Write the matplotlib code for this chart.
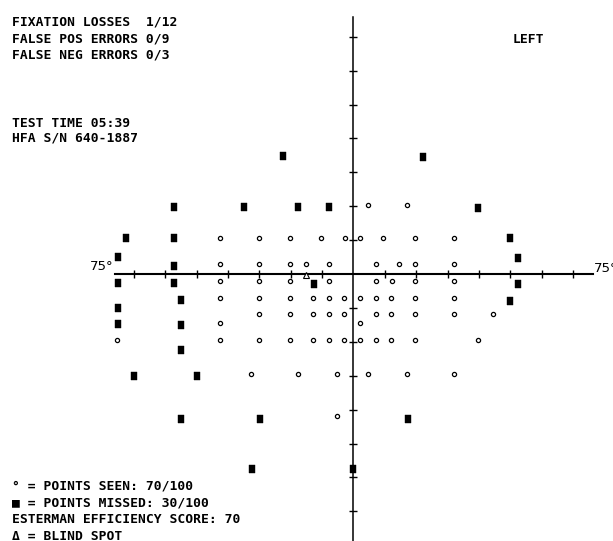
import numpy as np
import matplotlib.pyplot as plt

# Esterman binocular field, left eye (degrees)
seen_x = [4.5, 16.9,
          -42.5, -30.0, -20.1, -10.3, -2.7, 2.1, 9.5, 19.6, 32.0,
          -42.5, -30.0, -20.1, -15.1, -7.7, 7.2, 14.6, 19.6, 32.0,
          -42.5, -30.0, -20.1, -7.7, 7.2, 12.2, 19.6, 32.0,
          -42.5, -30.0, -20.1, -12.8, -7.8, -2.9, 2.1, 7.1, 11.9, 19.6, 32.0,
          -30.0, -20.1, -12.8, -7.8, -2.9, 7.1, 11.9, 19.6, 32.0, 44.5,
          2.1, -42.5,
          -75.2, -42.5, -30.0, -20.1, -12.8, -7.8, -2.9, 2.1, 7.1, 11.9, 19.6, 39.6,
          -32.7, -17.8, -5.4, 4.7, 16.9, 32.0,
          -5.4]
seen_y = [20.4, 20.4,
          10.5, 10.5, 10.5, 10.5, 10.5, 10.5, 10.5, 10.5, 10.5,
          2.9, 2.9, 2.9, 2.9, 2.9, 2.9, 2.9, 2.9, 2.9,
          -2.1, -2.1, -2.1, -2.1, -2.1, -2.1, -2.1, -2.1,
          -7.1, -7.1, -7.1, -7.1, -7.1, -7.1, -7.1, -7.1, -7.1, -7.1, -7.1,
          -11.9, -11.9, -11.9, -11.9, -11.9, -11.9, -11.9, -11.9, -11.9, -11.9,
          -14.5, -14.4,
          -19.5, -19.5, -19.5, -19.5, -19.5, -19.5, -19.5, -19.5, -19.5, -19.5, -19.5, -19.5,
          -29.5, -29.5, -29.5, -29.5, -29.5, -29.5,
          -41.9]

missed_x = [-22.6, 22.2,
            -57.3, -34.9, -17.6, -7.7, 39.8,
            -72.5, -57.3, 49.9,
            -74.9, -57.3, 52.5,
            -74.9, -57.3, -12.5, 52.5,
            -55.0, 49.9,
            -74.9, -74.9, -55.0,
            -55.0,
            -69.9, -50.0,
            -55.0, -29.8, 17.4,
            -32.2, -0.1]
missed_y = [34.8, 34.6,
            19.9, 19.9, 19.9, 19.9, 19.6,
            10.5, 10.5, 10.5,
            4.9, 2.4, 4.6,
            -2.6, -2.7, -2.9, -2.9,
            -7.7, -8.0,
            -10.1, -14.8, -15.0,
            -22.4,
            -30.1, -30.1,
            -42.9, -42.9, -42.9,
            -57.5, -57.5]

blind_x = [-15.1]
blind_y = [-0.3]

ticks = [-70, -60, -50, -40, -30, -20, -10, 10, 20, 30, 40, 50, 60, 70]

header_lines = ["FIXATION LOSSES  1/12", "FALSE POS ERRORS 0/9", "FALSE NEG ERRORS 0/3"]
info_lines = ["TEST TIME 05:39", "HFA S/N 640-1887"]
legend_lines = ["° = POINTS SEEN: 70/100", "■ = POINTS MISSED: 30/100",
                "ESTERMAN EFFICIENCY SCORE: 70", "Δ = BLIND SPOT"]

W, H = 613, 541
fig = plt.figure(figsize=(W / 100, H / 100), dpi=100)
ax = fig.add_axes([0, 0, 1, 1])
ax.axis("off")

# pixel scale of the printout: 3.139 px/deg across, 3.39 px/deg down
x0, sx = 353.5, 3.139
y0, sy = 274.0, 3.39
ax.set_xlim((0 - x0) / sx, (W - x0) / sx)
ax.set_ylim((y0 - H) / sy, y0 / sy)

# axes cross
ax.plot([(115 - x0) / sx, (593 - x0) / sx], [0, 0], color="black", lw=1.5)
ax.plot([-0.15, -0.15], [(y0 - 17) / sy, (y0 - H - 5) / sy], color="black", lw=1.1)
ax.vlines(ticks, -1.1, 1.1, color="black", lw=1.0)
ax.hlines(ticks, -1.45, 1.15, color="black", lw=1.0)

rect = [(-0.38, -0.5), (0.38, -0.5), (0.38, 0.5), (-0.38, 0.5), (-0.38, -0.5)]
ax.plot(missed_x, missed_y, ls="none", marker=rect, ms=6.2, mfc="black", mec="black", mew=0.3)
ax.plot(seen_x, seen_y, ls="none", marker="o", ms=3.0, mfc="white", mec="black", mew=0.9)
ax.plot(blind_x, blind_y, ls="none", marker="^", ms=4.2, mfc="white", mec="black", mew=0.8)


def put(px, py, s, **kw):
    fig.text(px / W, 1 - py / H, s, va="baseline", **kw)


mono = dict(family="DejaVu Sans Mono", fontsize=9.4, weight="bold")
for s, yb in zip(header_lines, [25.3, 42.2, 58.8]):
    put(12, yb, s, **mono)
for s, yb in zip(info_lines, [127.2, 141.8]):
    put(12, yb, s, **mono)
put(513, 42.8, "LEFT", **mono)
for s, yb in zip(legend_lines, [489.4, 506.6, 523.2, 539.6]):
    put(12, yb, s, **mono)

put(90, 269.5, "75°", family="DejaVu Sans", fontsize=9.5)
put(594, 271.5, "75°", family="DejaVu Sans", fontsize=9.5)

fig.savefig("out.png", dpi=100)
